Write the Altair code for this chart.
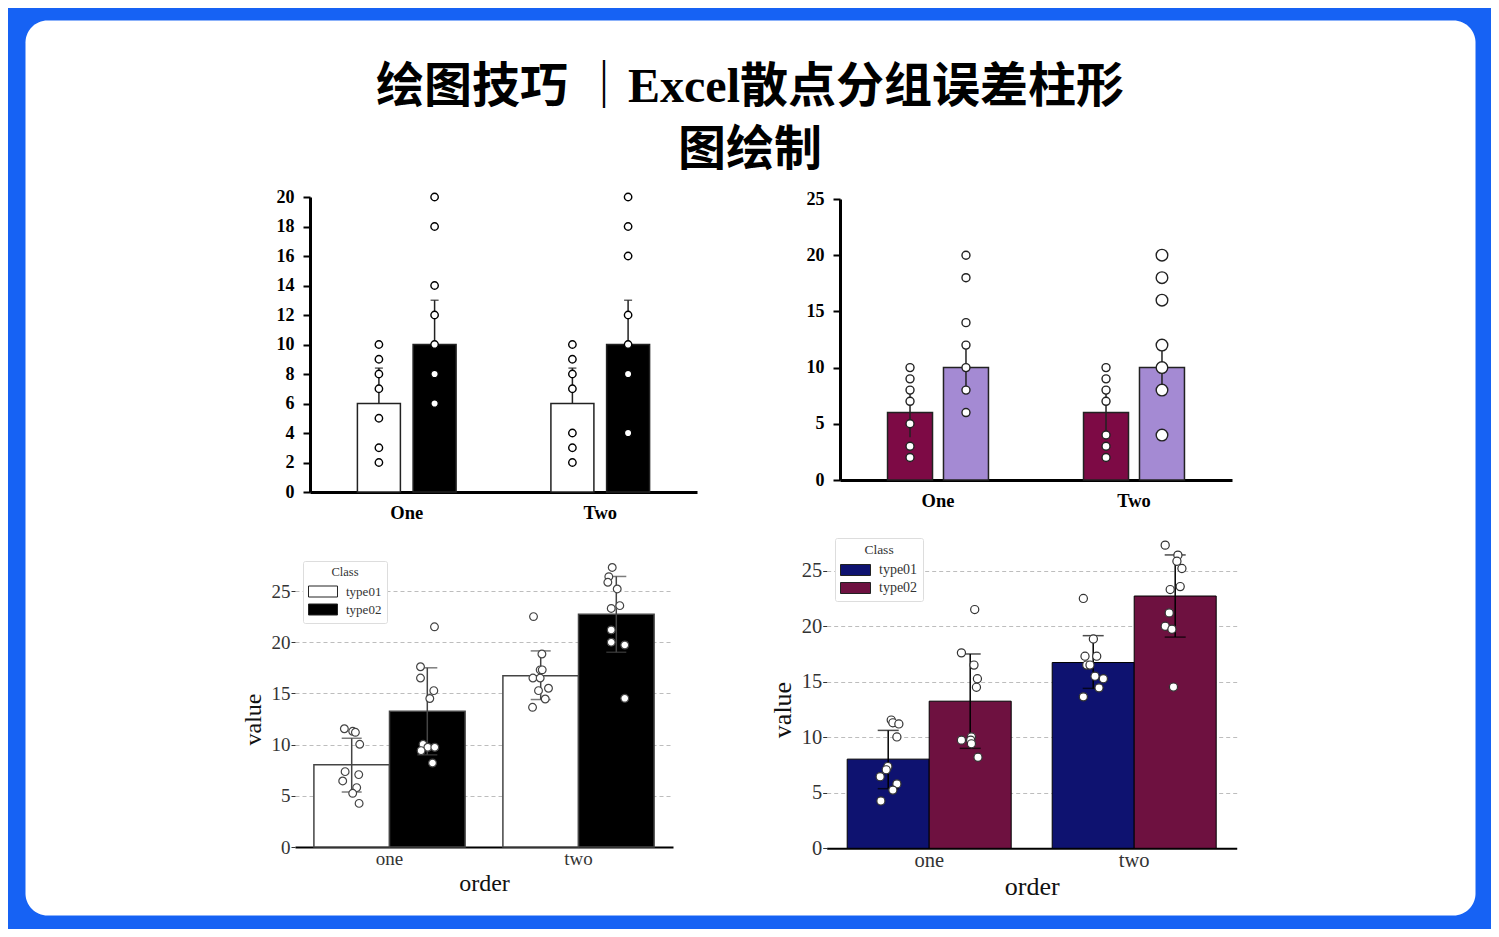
import altair as alt
import pandas as pd

# ---------------- data ----------------
TITLE_LINES = ["绘图技巧 ｜Excel散点分组误差柱形", "图绘制"]
CLASSES = ["type01", "type02"]
TOP_CATS = ["One", "Two"]
BOT_CATS = ["one", "two"]

# top-left (Excel style, plus-only error bars)
tl_orders = ["One", "One", "Two", "Two"]
tl_classes = ["type01", "type02", "type01", "type02"]
tl_means = [6, 10, 6, 10]
tl_err_hi = [8.4, 13, 8.4, 13]
tl_points = [
    [10, 9, 8, 7, 5, 3, 2],
    [20, 18, 14, 12, 10, 8, 6],
    [10, 9, 8, 7, 4, 3, 2],
    [20, 18, 16, 12, 10, 8, 4],
]

# top-right
tr_means = [6, 10, 6, 10]
tr_err_lo = [3.8, 8.0, 3.8, 8.5]
tr_err_hi = [8.2, 12.0, 8.2, 11.5]
tr_points = [
    [10, 9, 8, 7, 5, 3, 2],
    [20, 18, 14, 12, 10, 8, 6],
    [10, 9, 8, 7, 4, 3, 2],
    [20, 18, 16, 12, 10, 8, 4],
]

# bottom (ggplot style, same data in both panels)
b_orders = ["one", "one", "two", "two"]
b_classes = ["type01", "type02", "type01", "type02"]
b_means = [8.03, 13.25, 16.73, 22.72]
b_err_lo = [5.37, 9.0, 14.4, 19.02]
b_err_hi = [10.62, 17.5, 19.15, 26.42]
b_points = [
    [11.55, 11.3, 11.2, 10.03, 7.36, 7.07, 6.45, 5.8, 5.24, 4.26],
    [21.5, 17.6, 16.5, 15.27, 14.5, 10.03, 9.74, 9.74, 9.41, 8.2],
    [22.5, 18.85, 17.3, 17.3, 16.5, 16.5, 15.5, 15.27, 14.45, 13.64],
    [27.3, 26.4, 25.85, 25.2, 23.57, 23.3, 21.2, 20.0, 19.73, 14.52],
]
# horizontal jitter of each point, in bar widths
bl_jitter = [
    [-0.097, 0.013, 0.049, 0.106, -0.087, 0.093, -0.119, 0.066, 0.013, 0.098],
    [0.095, -0.090, -0.090, 0.086, 0.033, -0.056, 0.007, 0.099, -0.082, 0.069],
    [-0.095, 0.016, -0.007, 0.020, -0.103, -0.007, 0.103, -0.029, 0.060, -0.108],
    [-0.054, -0.099, -0.112, 0.012, 0.046, -0.067, -0.067, -0.067, 0.112, 0.112],
]
br_jitter = [
    [0.037, 0.057, 0.130, 0.106, -0.004, -0.024, -0.098, 0.106, 0.057, -0.089],
    [0.055, -0.107, 0.046, 0.088, 0.076, 0.015, -0.107, 0.006, 0.015, 0.095],
    [-0.120, 0.002, -0.100, 0.043, -0.079, -0.039, 0.022, 0.124, 0.071, -0.120],
    [-0.122, 0.033, 0.021, 0.082, 0.061, -0.061, -0.073, -0.122, -0.040, -0.021],
]

# ---------------- styles ----------------
BLUE = "#1662F4"
SERIF = "Liberation Serif"
TITLE_FONT = "Liberation Serif, Noto Sans CJK SC"
W, H = 1450, 895


def summary_df(orders, classes, means, lo, hi):
    return pd.DataFrame({"order": orders, "cls": classes, "mean": means, "lo": lo, "hi": hi})


def points_df(orders, classes, vals, jit=None):
    rows = []
    for i, (o, c, vs) in enumerate(zip(orders, classes, vals)):
        for j, v in enumerate(vs):
            rows.append({"order": o, "cls": c, "value": v, "jit": jit[i][j] if jit else 0.0})
    return pd.DataFrame(rows)


def band_width(xr, pin, pout):
    step = (xr[1] - xr[0]) / (2 - pin + 2 * pout)
    return step * (1 - pin)


# ---------------- top panels ----------------
def top_panel(summ, pts, xr, pin, pout, opin, yr, ydom, yvals, fills, caps,
              pt_size, pt_stroke, big_cond=None):
    bw = band_width(xr, pin, pout)
    x = alt.X("order:N",
              scale=alt.Scale(domain=TOP_CATS, range=xr, paddingInner=pin, paddingOuter=pout),
              axis=alt.Axis(orient="bottom", offset=yr[0] - H, title=None, domainColor="black",
                            domainWidth=3, ticks=False, labelFont=SERIF, labelFontSize=18.5,
                            labelFontWeight="bold", labelColor="black", labelPadding=11,
                            labelAngle=0, grid=False))
    off = alt.XOffset("cls:N", scale=alt.Scale(domain=CLASSES, range=[0, bw],
                                               paddingInner=opin, paddingOuter=0))

    def y(field):
        return alt.Y(field,
                     scale=alt.Scale(domain=ydom, range=yr, nice=False, zero=True),
                     axis=alt.Axis(orient="left", offset=-xr[0], title=None, values=yvals,
                                   domainColor="black", domainWidth=3, tickColor="black",
                                   tickWidth=2, tickSize=7, labelFont=SERIF, labelFontSize=18,
                                   labelFontWeight="bold", labelColor="black", labelPadding=9,
                                   grid=False))

    bars = alt.Chart(summ).mark_bar(stroke="#222", strokeWidth=1.5).encode(
        x=x, xOffset=off, y=y("mean:Q"),
        fill=alt.Fill("cls:N", scale=alt.Scale(domain=CLASSES, range=fills), legend=None))
    errs = alt.Chart(summ).mark_rule(color="#222", strokeWidth=1.5).encode(
        x=x, xOffset=off, y=y("lo:Q"), y2="hi:Q")
    layers = [bars, errs]
    if caps:
        layers.append(alt.Chart(summ).mark_tick(color="#222", thickness=1.5, size=8,
                                                orient="horizontal").encode(
            x=x, xOffset=off, y=y("hi:Q")))
    pt_enc = dict(x=x, xOffset=off, y=y("value:Q"))
    if big_cond:
        pt_enc["size"] = alt.condition(big_cond, alt.value(pt_size * 2.1), alt.value(pt_size))
    layers.append(alt.Chart(pts).mark_circle(size=pt_size, fill="white", stroke=pt_stroke,
                                             strokeWidth=1.4, opacity=1).encode(**pt_enc))
    return alt.layer(*layers)


p1 = top_panel(summary_df(tl_orders, tl_classes, tl_means, tl_means, tl_err_hi),
               points_df(tl_orders, tl_classes, tl_points),
               xr=[285, 672], pin=0.49, pout=0.245, opin=0.228, yr=[472, 177], ydom=[0, 20],
               yvals=list(range(0, 21, 2)), fills=["white", "black"], caps=True,
               pt_size=55, pt_stroke="black")

p2 = top_panel(summary_df(tl_orders, tl_classes, tr_means, tr_err_lo, tr_err_hi),
               points_df(tl_orders, tl_classes, tr_points),
               xr=[815, 1207], pin=0.485, pout=0.2425, opin=0.196, yr=[460, 179], ydom=[0, 25],
               yvals=[0, 5, 10, 15, 20, 25], fills=["#7D0A45", "#A48AD3"],
               caps=False, pt_size=64, pt_stroke="#222",
               big_cond="datum.order == 'Two' && datum.cls == 'type02'")


# ---------------- bottom panels ----------------
def bottom_panel(summ, pts, xr, yr, fills, bar_stroke, bar_sw, err_color, cap_size, pt_size,
                 pt_stroke, legend_xy, label_fs, title_fs, leg_fs, row_h, sym_w):
    pin, pout = 0.2, 0.1
    bw = band_width(xr, pin, pout)
    x = alt.X("order:N",
              scale=alt.Scale(domain=BOT_CATS, range=xr, paddingInner=pin, paddingOuter=pout),
              axis=alt.Axis(orient="bottom", offset=yr[0] - H, title="order", titleFont=SERIF,
                            titleFontSize=title_fs, titleFontWeight="normal", titleColor="#111",
                            titlePadding=3, domainColor="black", domainWidth=2, ticks=False,
                            labelFont=SERIF, labelFontSize=label_fs, labelColor="#333",
                            labelPadding=2, labelAngle=0, grid=False))
    off = alt.XOffset("cls:N", scale=alt.Scale(domain=CLASSES, range=[0, bw],
                                               paddingInner=0, paddingOuter=0))

    def y(field):
        return alt.Y(field,
                     scale=alt.Scale(domain=[0, 25], range=yr, nice=False, zero=True),
                     axis=alt.Axis(orient="left", offset=-xr[0], title="value", titleFont=SERIF,
                                   titleFontSize=title_fs, titleFontWeight="normal",
                                   titleColor="#111", titlePadding=6,
                                   values=[0, 5, 10, 15, 20, 25], domain=False, tickSize=4,
                                   tickColor="#333", labelFont=SERIF, labelFontSize=label_fs,
                                   labelColor="#333", labelPadding=1, grid=True,
                                   gridDash=[4, 3], gridColor="#bdbdbd", gridWidth=1))

    half_w = sym_w / row_h
    half_h = 11 / row_h
    sym_path = f"M{-half_w:.3f},{-half_h:.3f}H{half_w:.3f}V{half_h:.3f}H{-half_w:.3f}Z"
    legend = alt.Legend(orient="none", legendX=legend_xy[0], legendY=legend_xy[1], title="Class",
                        titleFont=SERIF, titleFontSize=leg_fs - 0.5, titleFontWeight="normal",
                        titleColor="#333", titleAnchor="middle", titlePadding=3,
                        labelFont=SERIF, labelFontSize=leg_fs, labelColor="#333",
                        labelOffset=sym_w - row_h + 3, symbolType=sym_path,
                        symbolSize=row_h * row_h, symbolOffset=(sym_w - row_h) / 2,
                        symbolStrokeColor="#222", symbolStrokeWidth=1, symbolOpacity=1,
                        strokeColor="#dddddd", fillColor="white", padding=5, rowPadding=0,
                        cornerRadius=2)

    bars = alt.Chart(summ).mark_bar(stroke=bar_stroke, strokeWidth=bar_sw).encode(
        x=x, xOffset=off, y=y("mean:Q"),
        fill=alt.Fill("cls:N", scale=alt.Scale(domain=CLASSES, range=fills), legend=legend))
    errs = alt.Chart(summ).mark_rule(color=err_color, strokeWidth=1.5).encode(
        x=x, xOffset=off, y=y("lo:Q"), y2="hi:Q")
    caps = alt.Chart(summ).mark_tick(color=err_color, thickness=1.5, size=cap_size,
                                     orient="horizontal").transform_fold(
        ["lo", "hi"], as_=["end", "yv"]).encode(x=x, xOffset=off, y=y("yv:Q"))
    dots = alt.Chart(pts).transform_calculate(
        pos="(datum.cls === 'type01' ? 0.5 : 1.5) + datum.jit"
    ).mark_circle(size=pt_size, fill="white", stroke=pt_stroke, strokeWidth=1.2, opacity=1).encode(
        x=x,
        xOffset=alt.XOffset("pos:Q", scale=alt.Scale(domain=[0, 2], range=[0, bw], nice=False,
                                                     zero=False)),
        y=y("value:Q"))
    return alt.layer(bars, errs, caps, dots).resolve_scale(xOffset="independent")


b_summary = summary_df(b_orders, b_classes, b_means, b_err_lo, b_err_hi)

p3 = bottom_panel(b_summary, points_df(b_orders, b_classes, b_points, bl_jitter),
                  xr=[270, 648], yr=[827, 571], fills=["white", "black"], bar_stroke="#444",
                  bar_sw=1.5, err_color="#444", cap_size=20, pt_size=60, pt_stroke="#444",
                  legend_xy=[278, 541], label_fs=19, title_fs=24, leg_fs=13, row_h=19, sym_w=29)

p4 = bottom_panel(b_summary, points_df(b_orders, b_classes, b_points, br_jitter),
                  xr=[801.7, 1211.7], yr=[828.3, 550.7], fills=["#0E1270", "#6E1140"],
                  bar_stroke="black", bar_sw=1, err_color="black", cap_size=21, pt_size=66,
                  pt_stroke="#333", legend_xy=[810, 518], label_fs=20.5, title_fs=26, leg_fs=14,
                  row_h=20, sym_w=30)

chart = alt.layer(p1, p2, p3, p4).resolve_scale(
    x="independent", y="independent", xOffset="independent", fill="independent"
).resolve_axis(x="independent", y="independent").resolve_legend(fill="independent").properties(
    width=W, height=H,
    title=alt.TitleParams(text=TITLE_LINES, font=TITLE_FONT, fontSize=48, fontWeight="bold",
                          color="black", anchor="middle", frame="group", baseline="top",
                          offset=-155, lineHeight=63),
    padding={"left": 17, "top": 12, "right": 16, "bottom": 14},
    autosize=alt.AutoSizeParams(type="none"),
    background=BLUE,
).configure_view(fill="white", stroke="transparent", cornerRadius=22)

chart.save("out.html", embed_options={"renderer": "svg", "actions": False})
